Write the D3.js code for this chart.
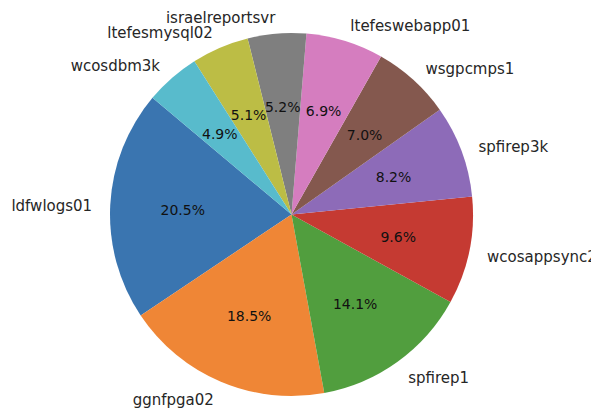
<!DOCTYPE html>
<html>
<head>
<meta charset="utf-8">
<script src="https://cdn.jsdelivr.net/npm/d3@7"></script>
<style>
html,body{margin:0;padding:0;background:#fff;}
svg{display:block;}
text{font-family:"DejaVu Sans",sans-serif;}
</style>
</head>
<body>
<svg id="chart" width="591" height="410"></svg>
<script>
const labels = ["ldfwlogs01","ggnfpga02","spfirep1","wcosappsync2","spfirep3k","wsgpcmps1","ltefeswebapp01","israelreportsvr","ltefesmysql02","wcosdbm3k"];
const values = [20.5,18.5,14.1,9.6,8.2,7.0,6.9,5.2,5.1,4.9];
const colors = ["#3a75b0","#ef8636","#519e3e","#c53a32","#8d6bb8","#84584e","#d57dbf","#7f7f7f","#bcbd45","#58bbcc"];

const W = 591, H = 410;
const cx = 291.5, cy = 214.5, R = 181.5;
const startDeg = 140;

const svg = d3.select("#chart");
const g = svg.append("g").attr("transform", `translate(${cx},${cy})`);

const a0 = Math.PI/2 - startDeg*Math.PI/180;
const pie = d3.pie().sort(null).value(d => d.v).startAngle(a0).endAngle(a0 - 2*Math.PI);
const data = labels.map((l,i) => ({label:l, v:values[i], c:colors[i]}));
const arcs = pie(data);
const arc = d3.arc().innerRadius(0).outerRadius(R);

g.selectAll("path.slice").data(arcs).join("path")
  .attr("class","slice")
  .attr("d", arc)
  .attr("fill", d => d.data.c);

const fmt = v => v.toFixed(1) + "%";
g.selectAll("text.pct").data(arcs).join("text")
  .attr("class","pct")
  .attr("x", d => { const m=(d.startAngle+d.endAngle)/2; return 0.6*R*Math.sin(m); })
  .attr("y", d => { const m=(d.startAngle+d.endAngle)/2; return -0.6*R*Math.cos(m) + 1; })
  .attr("text-anchor","middle")
  .attr("dominant-baseline","central")
  .attr("font-size", 14)
  .attr("fill","#111")
  .text(d => fmt(d.data.v));

g.selectAll("text.lbl").data(arcs).join("text")
  .attr("class","lbl")
  .each(function(d){
    const m=(d.startAngle+d.endAngle)/2;
    const x = 1.1*R*Math.sin(m), y = -1.1*R*Math.cos(m);
    d3.select(this).attr("x",x).attr("y",y + 2)
      .attr("text-anchor", x>0 ? "start" : "end");
  })
  .attr("dominant-baseline","central")
  .attr("font-size", 15)
  .attr("fill","#262626")
  .text(d => d.data.label);
</script>
</body>
</html>
